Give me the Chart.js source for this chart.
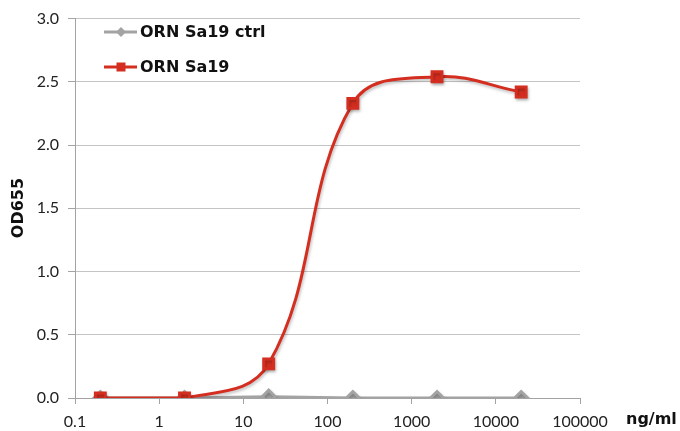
<!DOCTYPE html>
<html>
<head>
<meta charset="utf-8">
<script src="https://cdn.jsdelivr.net/npm/chart.js@4"></script>
<style>
  html, body { margin: 0; padding: 0; background: #fff; }
  #wrap { width: 680px; height: 431px; position: relative; }
</style>
</head>
<body>
<div id="wrap"><canvas id="grafico" width="680" height="431"></canvas></div>
<script>
// concentrations (ng/ml) and OD655 readings
const doses = [0.2, 2, 20, 200, 2000, 20000];
const ctrlOD = [0.0, 0.0, 0.01, 0.0, 0.0, 0.0];
const sa19OD = [0.0, 0.0, 0.27, 2.33, 2.54, 2.42];
const xTicks = [0.1, 1, 10, 100, 1000, 10000, 100000];
const xTickLabels = ["0.1", "1", "10", "100", "1000", "10000", "100000"];
const yTicks = [0, 0.5, 1, 1.5, 2, 2.5, 3];

const FONT = "Lato, 'Open Sans', sans-serif";
const BOLD = "'DejaVu Sans', sans-serif";
const GRAY = "#a3a3a3";
const RED = "#d42e20";

// soft shadow under lines and markers
const shadowPlugin = {
  id: "shadow",
  beforeDatasetsDraw(chart) {
    const c = chart.ctx;
    c.save();
    c.shadowColor = "rgba(0,0,0,0.25)";
    c.shadowBlur = 3;
    c.shadowOffsetX = 1;
    c.shadowOffsetY = 2;
  },
  afterDatasetsDraw(chart) {
    chart.ctx.restore();
  }
};

// legend inside the plot, axis titles
const labelsPlugin = {
  id: "labels",
  afterDraw(chart) {
    const c = chart.ctx;
    const items = [
      { text: "ORN Sa19 ctrl", color: GRAY, shape: "diamond", y: 32 },
      { text: "ORN Sa19", color: RED, shape: "square", y: 67 }
    ];
    c.save();
    items.forEach((it) => {
      c.strokeStyle = it.color;
      c.lineWidth = 3;
      c.beginPath();
      c.moveTo(104, it.y);
      c.lineTo(137, it.y);
      c.stroke();
      c.fillStyle = it.color;
      c.beginPath();
      if (it.shape === "diamond") {
        c.moveTo(121, it.y - 5);
        c.lineTo(126, it.y);
        c.lineTo(121, it.y + 5);
        c.lineTo(116, it.y);
        c.closePath();
      } else {
        c.rect(116.5, it.y - 4.5, 9, 9);
      }
      c.fill();
      c.fillStyle = "#111";
      c.font = "bold 16px " + BOLD;
      c.textBaseline = "middle";
      c.textAlign = "left";
      c.fillText(it.text, 140, it.y + 1);
    });

    c.font = "bold 16px " + BOLD;
    c.fillStyle = "#111";
    c.textAlign = "left";
    c.textBaseline = "middle";
    c.fillText("ng/ml", 626, 420);

    c.translate(19, 208);
    c.rotate(-Math.PI / 2);
    c.textAlign = "center";
    c.fillText("OD655", 0, 0);
    c.restore();
  }
};

const ctx = document.getElementById("grafico").getContext("2d");
new Chart(ctx, {
  type: "line",
  data: {
    datasets: [
      {
        label: "ORN Sa19",
        data: doses.map((x, i) => ({ x: x, y: sa19OD[i] })),
        borderColor: RED,
        backgroundColor: RED,
        borderWidth: 3,
        pointStyle: "rect",
        pointRadius: 7,
        pointHoverRadius: 7,
        tension: 0.4
      },
      {
        label: "ORN Sa19 ctrl",
        data: doses.map((x, i) => ({ x: x, y: ctrlOD[i] })),
        borderColor: GRAY,
        backgroundColor: GRAY,
        borderWidth: 3,
        pointStyle: "rectRot",
        pointRadius: 6.5,
        pointHoverRadius: 6.5,
        tension: 0
      }
    ]
  },
  options: {
    responsive: false,
    animation: false,
    events: [],
    layout: { padding: { top: 18, right: 100, left: 0, bottom: 0 } },
    plugins: {
      legend: { display: false },
      tooltip: { enabled: false }
    },
    scales: {
      x: {
        type: "logarithmic",
        min: 0.1,
        max: 100000,
        afterBuildTicks(scale) {
          scale.ticks = xTicks.map((v) => ({ value: v }));
        },
        afterFit(scale) { scale.height = 33; },
        grid: {
          drawOnChartArea: false,
          drawTicks: true,
          tickLength: 6,
          color: GRAY
        },
        border: { color: GRAY, width: 1 },
        ticks: {
          autoSkip: false,
          maxRotation: 0,
          padding: 8,
          color: "#222",
          font: { family: FONT, size: 16 },
          callback(value) {
            const i = xTicks.indexOf(value);
            return i >= 0 ? xTickLabels[i] : "";
          }
        }
      },
      y: {
        min: 0,
        max: 3,
        afterBuildTicks(scale) {
          scale.ticks = yTicks.map((v) => ({ value: v }));
        },
        afterFit(scale) { scale.width = 75; },
        grid: {
          color: "#c4c4c4",
          drawTicks: true,
          tickLength: 7,
          tickColor: GRAY
        },
        border: { color: GRAY, width: 1 },
        ticks: {
          padding: 9,
          color: "#222",
          font: { family: FONT, size: 16 },
          callback(value) { return value.toFixed(1); }
        }
      }
    }
  },
  plugins: [shadowPlugin, labelsPlugin]
});
</script>
</body>
</html>
